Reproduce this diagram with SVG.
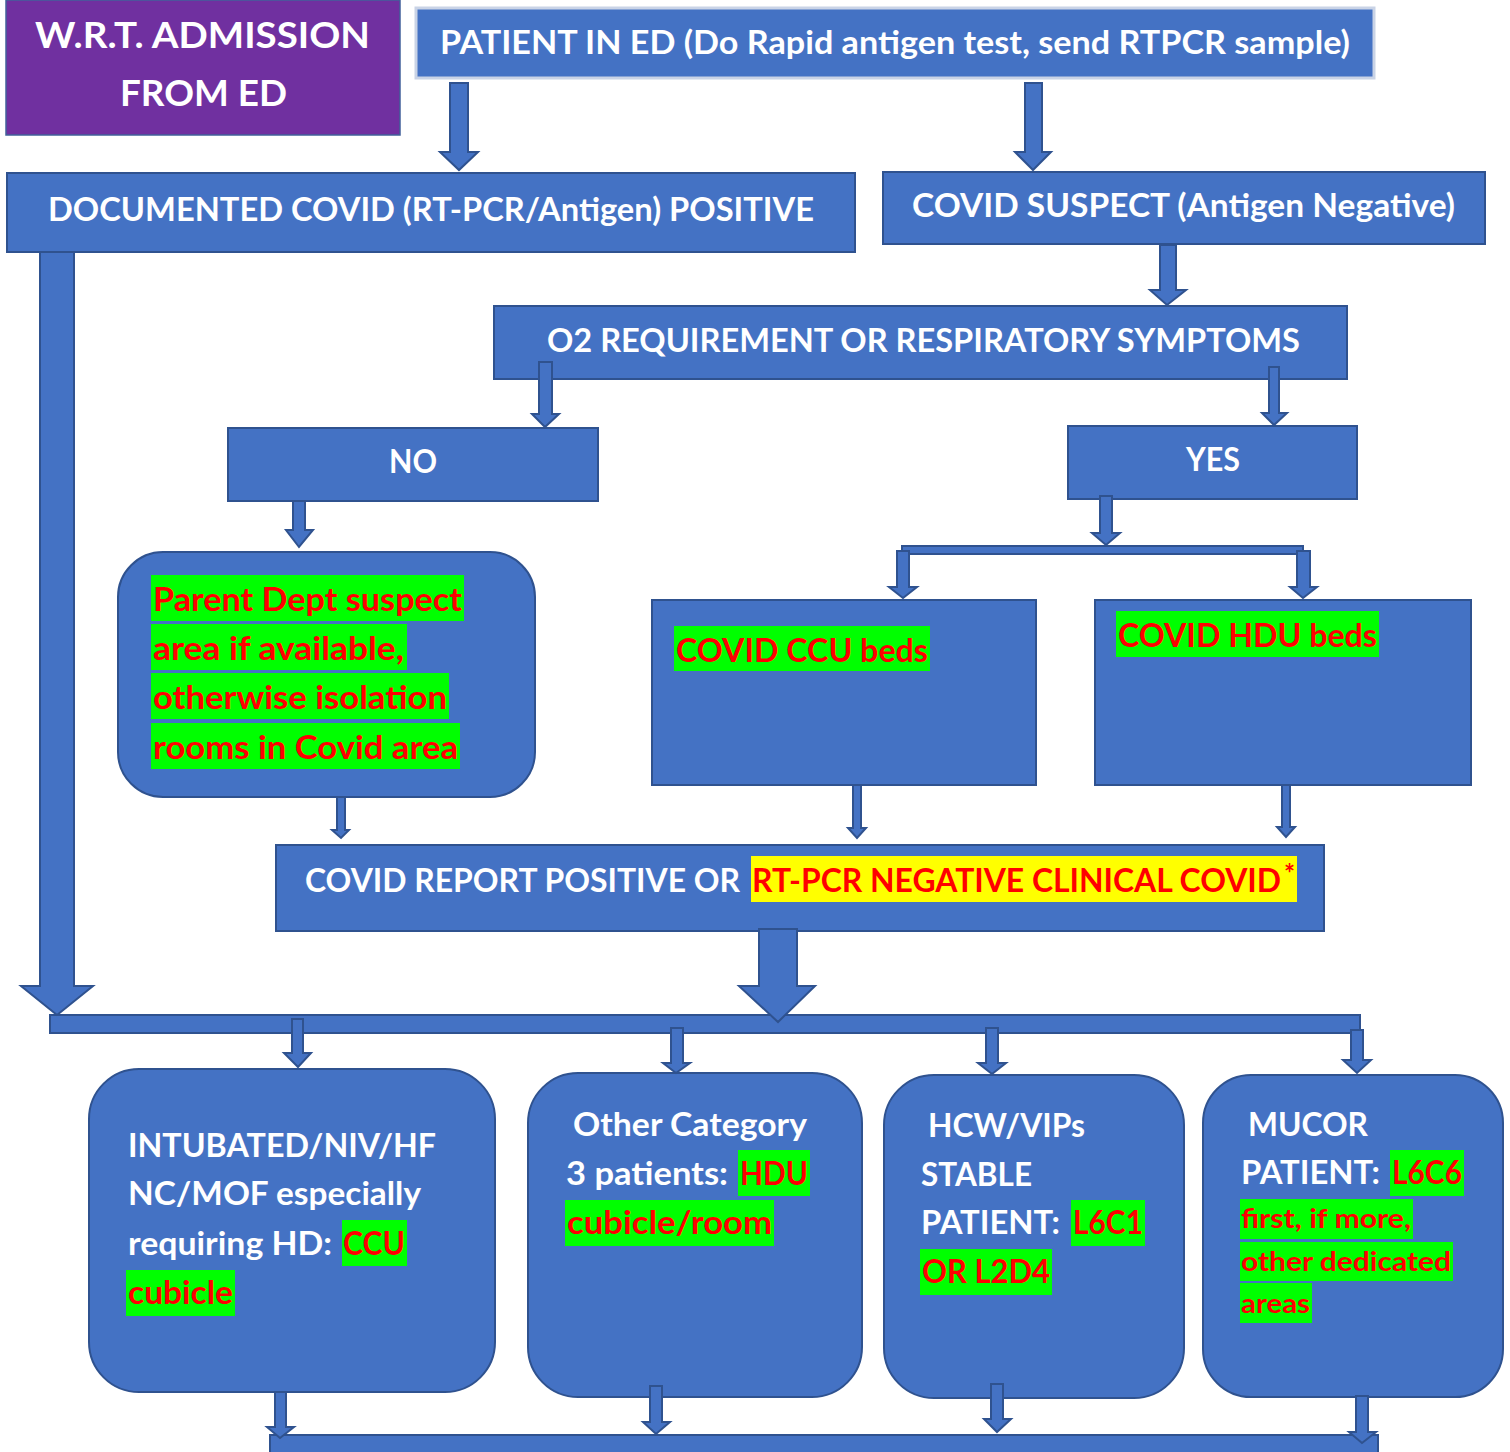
<svg xmlns="http://www.w3.org/2000/svg" width="1510" height="1452" viewBox="0 0 1510 1452">
  <style>
    .box { fill: #4472C4; stroke: #2F528F; stroke-width: 2; }
    .arr { fill: #4472C4; stroke: #2F528F; stroke-width: 2; stroke-linejoin: miter; }
    .t { font-family: Lato, "Open Sans", "Liberation Sans", sans-serif; font-weight: 700; font-size: 32px; fill: #FFFFFF; }
    .red { fill: #FF0000; }
    .sm { font-size: 27px; }
    .hl { fill: #00FF00; }
    .yl { fill: #FFFF00; }
  </style>
  <rect width="1510" height="1452" fill="#FFFFFF"/>

  <g id="nodes">
    <g id="title">
      <rect x="6" y="0" width="394" height="135" fill="#7030A0" stroke="#41609A" stroke-width="1.5"/>
      <text class="t" x="35" y="48" textLength="335" lengthAdjust="spacingAndGlyphs" style="font-size:36px">W.R.T. ADMISSION</text>
      <text class="t" x="120" y="106" textLength="167" lengthAdjust="spacingAndGlyphs" style="font-size:36px">FROM ED</text>
    </g>

    <g id="patient-in-ed">
      <rect x="416" y="8" width="958" height="70" fill="#4472C4" stroke="#C9D3E6" stroke-width="3"/>
      <text class="t" x="440" y="54" textLength="910" lengthAdjust="spacingAndGlyphs">PATIENT IN ED (Do Rapid antigen test, send RTPCR sample)</text>
    </g>

    <g id="documented-positive">
      <rect class="box" x="7" y="173" width="848" height="79"/>
      <text class="t" x="48" y="221" textLength="766" lengthAdjust="spacingAndGlyphs">DOCUMENTED COVID (RT-PCR/Antigen) POSITIVE</text>
    </g>

    <g id="covid-suspect">
      <rect class="box" x="883" y="172" width="602" height="72"/>
      <text class="t" x="912" y="217" textLength="543" lengthAdjust="spacingAndGlyphs">COVID SUSPECT (Antigen Negative)</text>
    </g>

    <g id="o2-requirement">
      <rect class="box" x="494" y="306" width="853" height="73"/>
      <text class="t" x="547" y="352" textLength="753" lengthAdjust="spacingAndGlyphs">O2 REQUIREMENT OR RESPIRATORY SYMPTOMS</text>
    </g>

    <g id="no">
      <rect class="box" x="228" y="428" width="370" height="73"/>
      <text class="t" x="389" y="473" textLength="48" lengthAdjust="spacingAndGlyphs">NO</text>
    </g>

    <g id="yes">
      <rect class="box" x="1068" y="426" width="289" height="73"/>
      <text class="t" x="1186" y="471" textLength="54" lengthAdjust="spacingAndGlyphs">YES</text>
    </g>

    <g id="parent-dept">
      <rect class="box" x="118" y="552" width="417" height="245" rx="45" ry="45"/>
      <rect class="hl" x="151" y="575" width="313" height="46"/>
      <rect class="hl" x="151" y="624" width="256" height="46"/>
      <rect class="hl" x="151" y="673" width="298" height="46"/>
      <rect class="hl" x="151" y="723" width="309" height="46"/>
      <text class="t red" x="153" y="611" textLength="309" lengthAdjust="spacingAndGlyphs">Parent Dept suspect</text>
      <text class="t red" x="153" y="660" textLength="251" lengthAdjust="spacingAndGlyphs">area if available,</text>
      <text class="t red" x="153" y="709" textLength="294" lengthAdjust="spacingAndGlyphs">otherwise isolation</text>
      <text class="t red" x="153" y="759" textLength="305" lengthAdjust="spacingAndGlyphs">rooms in Covid area</text>
    </g>

    <g id="ccu-beds">
      <rect class="box" x="652" y="600" width="384" height="185"/>
      <rect class="hl" x="674" y="626" width="256" height="45"/>
      <text class="t red" x="676" y="662" textLength="252" lengthAdjust="spacingAndGlyphs">COVID CCU beds</text>
    </g>

    <g id="hdu-beds">
      <rect class="box" x="1095" y="600" width="376" height="185"/>
      <rect class="hl" x="1116" y="611" width="263" height="46"/>
      <text class="t red" x="1118" y="647" textLength="259" lengthAdjust="spacingAndGlyphs">COVID HDU beds</text>
    </g>

    <g id="covid-report">
      <rect class="box" x="276" y="845" width="1048" height="86"/>
      <text class="t" x="305" y="892" textLength="435" lengthAdjust="spacingAndGlyphs">COVID REPORT POSITIVE OR</text>
      <rect class="yl" x="751" y="856" width="546" height="46"/>
      <text class="t red" x="752" y="892" textLength="529" lengthAdjust="spacingAndGlyphs">RT-PCR NEGATIVE CLINICAL COVID</text>
      <text class="t red" x="1284" y="883" style="font-size:26px">*</text>
    </g>

    <g id="intubated">
      <rect class="box" x="89" y="1069" width="406" height="323" rx="50" ry="50"/>
      <text class="t" x="128" y="1157" textLength="308" lengthAdjust="spacingAndGlyphs">INTUBATED/NIV/HF</text>
      <text class="t" x="128" y="1205" textLength="293" lengthAdjust="spacingAndGlyphs">NC/MOF especially</text>
      <text class="t" x="128" y="1255" textLength="204" lengthAdjust="spacingAndGlyphs">requiring HD:</text>
      <rect class="hl" x="342" y="1220" width="65" height="46"/>
      <text class="t red" x="343" y="1255" textLength="62" lengthAdjust="spacingAndGlyphs">CCU</text>
      <rect class="hl" x="126" y="1270" width="109" height="46"/>
      <text class="t red" x="128" y="1304" textLength="105" lengthAdjust="spacingAndGlyphs">cubicle</text>
    </g>

    <g id="other-category">
      <rect class="box" x="528" y="1073" width="334" height="324" rx="50" ry="50"/>
      <text class="t" x="573" y="1136" textLength="234" lengthAdjust="spacingAndGlyphs">Other Category</text>
      <text class="t" x="566" y="1185" textLength="162" lengthAdjust="spacingAndGlyphs">3 patients:</text>
      <rect class="hl" x="738" y="1150" width="72" height="46"/>
      <text class="t red" x="740" y="1185" textLength="68" lengthAdjust="spacingAndGlyphs">HDU</text>
      <rect class="hl" x="565" y="1200" width="209" height="46"/>
      <text class="t red" x="567" y="1234" textLength="205" lengthAdjust="spacingAndGlyphs">cubicle/room</text>
    </g>

    <g id="hcw-vips">
      <rect class="box" x="884" y="1075" width="300" height="323" rx="50" ry="50"/>
      <text class="t" x="928" y="1137" textLength="157" lengthAdjust="spacingAndGlyphs">HCW/VIPs</text>
      <text class="t" x="921" y="1186" textLength="111" lengthAdjust="spacingAndGlyphs">STABLE</text>
      <text class="t" x="921" y="1234" textLength="139" lengthAdjust="spacingAndGlyphs">PATIENT:</text>
      <rect class="hl" x="1071" y="1200" width="74" height="46"/>
      <text class="t red" x="1073" y="1234" textLength="70" lengthAdjust="spacingAndGlyphs">L6C1</text>
      <rect class="hl" x="920" y="1249" width="132" height="46"/>
      <text class="t red" x="922" y="1283" textLength="128" lengthAdjust="spacingAndGlyphs">OR L2D4</text>
    </g>

    <g id="mucor">
      <rect class="box" x="1203" y="1075" width="300" height="322" rx="48" ry="48"/>
      <text class="t" x="1248" y="1136" textLength="120" lengthAdjust="spacingAndGlyphs">MUCOR</text>
      <text class="t" x="1241" y="1184" textLength="139" lengthAdjust="spacingAndGlyphs">PATIENT:</text>
      <rect class="hl" x="1390" y="1150" width="74" height="46"/>
      <text class="t red" x="1392" y="1184" textLength="70" lengthAdjust="spacingAndGlyphs">L6C6</text>
      <rect class="hl" x="1240" y="1199" width="173" height="40"/>
      <text class="t red sm" x="1241" y="1228" textLength="170" lengthAdjust="spacingAndGlyphs">first, if more,</text>
      <rect class="hl" x="1240" y="1242" width="213" height="39"/>
      <text class="t red sm" x="1241" y="1271" textLength="210" lengthAdjust="spacingAndGlyphs">other dedicated</text>
      <rect class="hl" x="1240" y="1283" width="72" height="40"/>
      <text class="t red sm" x="1241" y="1313" textLength="69" lengthAdjust="spacingAndGlyphs">areas</text>
    </g>
  </g>

  <g id="connectors">
    <!-- distribution bars -->
    <rect class="arr" x="902" y="546" width="401" height="8"/>
    <rect class="arr" x="50" y="1015" width="1310" height="18"/>
    <rect class="arr" x="270" y="1435" width="1108" height="25"/>

    <!-- block arrows: shaft, then head -->
    <polygon class="arr" points="450,83 468,83 468,152 478,152 459,170 440,152 450,152"/>
    <polygon class="arr" points="1025,83 1042,83 1042,152 1051,152 1033,170 1015,152 1025,152"/>
    <polygon class="arr" points="1160,245 1176,245 1176,290 1186,290 1167,305 1150,290 1160,290"/>
    <polygon class="arr" points="40,252 74,252 74,986 93,986 57,1015 21,986 40,986"/>
    <polygon class="arr" points="539,362 552,362 552,414 559,414 545,427 532,414 539,414"/>
    <polygon class="arr" points="1269,367 1279,367 1279,413 1287,413 1274,425 1262,413 1269,413"/>
    <polygon class="arr" points="293,501 305,501 305,530 313,530 299,547 286,530 293,530"/>
    <polygon class="arr" points="1100,496 1112,496 1112,533 1120,533 1106,545 1092,533 1100,533"/>
    <polygon class="arr" points="897,551 909,551 909,587 917,587 903,598 889,587 897,587"/>
    <polygon class="arr" points="1297,551 1310,551 1310,587 1317,587 1303,598 1290,587 1297,587"/>
    <polygon class="arr" points="337,797 345,797 345,830 349,830 341,838 332,830 337,830"/>
    <polygon class="arr" points="853,785 861,785 861,828 866,828 857,838 848,828 853,828"/>
    <polygon class="arr" points="1282,785 1290,785 1290,827 1295,827 1286,837 1277,827 1282,827"/>
    <polygon class="arr" points="759,929 797,929 797,986 815,986 778,1022 739,986 759,986"/>
    <polygon class="arr" points="292,1019 303,1019 303,1053 311,1053 298,1067 284,1053 292,1053"/>
    <polygon class="arr" points="671,1028 683,1028 683,1063 690,1063 676,1073 663,1063 671,1063"/>
    <polygon class="arr" points="986,1028 998,1028 998,1063 1006,1063 992,1074 978,1063 986,1063"/>
    <polygon class="arr" points="1351,1030 1363,1030 1363,1060 1371,1060 1357,1073 1343,1060 1351,1060"/>
    <polygon class="arr" points="275,1392 286,1392 286,1427 294,1427 280,1438 267,1427 275,1427"/>
    <polygon class="arr" points="650,1386 662,1386 662,1422 670,1422 656,1434 643,1422 650,1422"/>
    <polygon class="arr" points="991,1384 1003,1384 1003,1419 1011,1419 997,1432 984,1419 991,1419"/>
    <polygon class="arr" points="1356,1396 1368,1396 1368,1432 1376,1432 1362,1443 1349,1432 1356,1432"/>
  </g>
</svg>
